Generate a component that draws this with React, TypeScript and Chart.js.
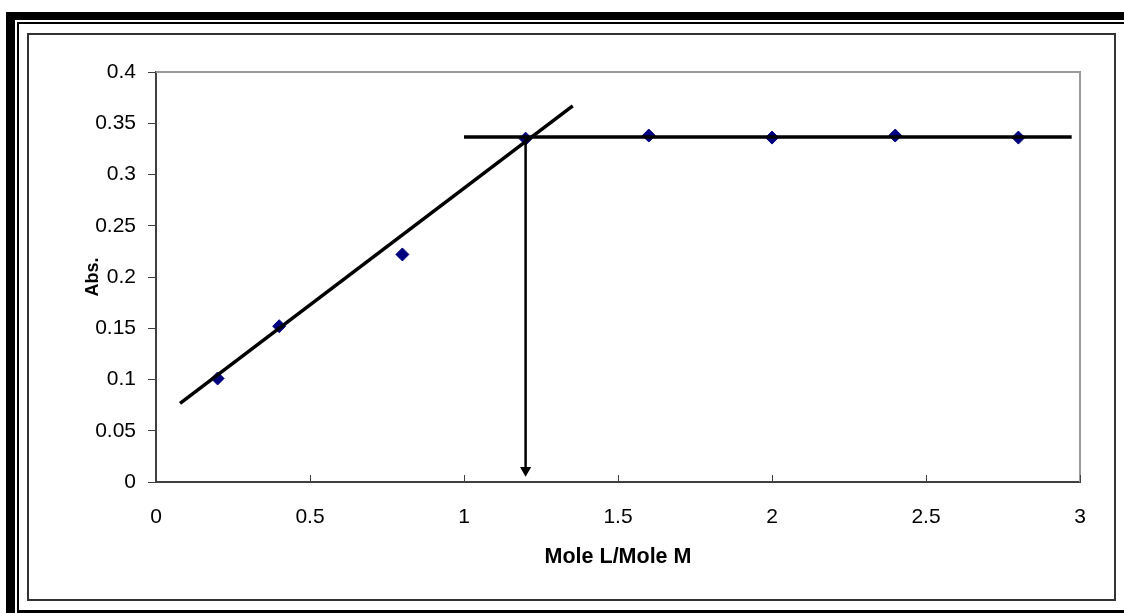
import React, { useEffect, useRef } from "react";
import { Chart, registerables } from "chart.js";

Chart.register(...registerables);

const xTickValues = [0, 0.5, 1, 1.5, 2, 2.5, 3];
const yTickValues = [0, 0.05, 0.1, 0.15, 0.2, 0.25, 0.3, 0.35, 0.4];
const moleRatio = [0.2, 0.4, 0.8, 1.2, 1.6, 2.0, 2.4, 2.8];
const absorbance = [0.101, 0.152, 0.222, 0.335, 0.338, 0.336, 0.338, 0.336];
const risingLineX = [0.078, 1.353];
const risingLineY = [0.0768, 0.367];
const plateauLineX = [1.0, 2.973];
const plateauLineY = [0.3367, 0.3367];
const arrowX = [1.2, 1.2];
const arrowY = [0.3367, 0.0115];
const xTitle = "Mole L/Mole M";
const yTitle = "Abs.";

const zip = (xs: number[], ys: number[]) => xs.map((x, i) => ({ x, y: ys[i] }));
const FONT = "'Liberation Sans', Arial, sans-serif";

const framePlugin = {
  id: "framePlugin",
  afterDraw(chart: any) {
    const { ctx, chartArea, scales } = chart;
    ctx.save();
    ctx.strokeStyle = "#9a9a9a";
    ctx.lineWidth = 2;
    ctx.beginPath();
    ctx.moveTo(chartArea.left, chartArea.top);
    ctx.lineTo(chartArea.right, chartArea.top);
    ctx.lineTo(chartArea.right, chartArea.bottom);
    ctx.stroke();
    ctx.strokeStyle = "#404040";
    ctx.lineWidth = 1;
    ctx.beginPath();
    for (const v of xTickValues) {
      const px = Math.round(scales.x.getPixelForValue(v)) + 0.5;
      ctx.moveTo(px, chartArea.bottom);
      ctx.lineTo(px, chartArea.bottom - 7);
    }
    ctx.stroke();
    ctx.restore();
  },
};

export default function App() {
  const ref = useRef<HTMLCanvasElement>(null);
  useEffect(() => {
    if (!ref.current) return;
    const chart = new Chart(ref.current, {
      type: "scatter",
      data: {
        datasets: [
          {
            data: zip(risingLineX, risingLineY),
            showLine: true,
            borderColor: "#000",
            borderWidth: 3.5,
            pointRadius: 0,
            order: 1,
          },
          {
            data: zip(plateauLineX, plateauLineY),
            showLine: true,
            borderColor: "#000",
            borderWidth: 3.5,
            pointRadius: 0,
            order: 1,
          },
          {
            data: zip(arrowX, arrowY),
            showLine: true,
            borderColor: "#000",
            borderWidth: 2.5,
            pointRadius: [0, 6.5],
            pointStyle: "triangle",
            rotation: 180,
            pointBackgroundColor: "#000",
            pointBorderColor: "#000",
            pointBorderWidth: 0,
            order: 1,
          } as any,
          {
            data: zip(moleRatio, absorbance),
            showLine: false,
            pointStyle: "rectRot",
            pointRadius: 6.5,
            pointBackgroundColor: "#000080",
            pointBorderColor: "#000080",
            pointBorderWidth: 1,
            order: 2,
          },
        ],
      },
      options: {
        animation: false,
        responsive: false,
        maintainAspectRatio: false,
        layout: { padding: { top: 37, right: 34, left: 0, bottom: 0 } },
        plugins: { legend: { display: false }, tooltip: { enabled: false } },
        scales: {
          x: {
            type: "linear",
            min: 0,
            max: 3,
            afterBuildTicks: (s: any) => {
              s.ticks = xTickValues.map((v) => ({ value: v }));
            },
            afterFit: (s: any) => {
              s.height = 117;
            },
            ticks: {
              color: "#000",
              font: { family: FONT, size: 21 },
              padding: 23,
              maxRotation: 0,
              autoSkip: false,
              callback: (v: any) => String(v),
            },
            grid: { display: true, drawOnChartArea: false, drawTicks: false },
            border: { display: true, color: "#404040", width: 2 },
            title: {
              display: true,
              text: xTitle,
              color: "#000",
              font: { family: FONT, size: 21.5, weight: "bold" },
              padding: { top: 0, bottom: 29 },
            },
          },
          y: {
            type: "linear",
            min: 0,
            max: 0.4,
            afterBuildTicks: (s: any) => {
              s.ticks = yTickValues.map((v) => ({ value: v }));
            },
            afterFit: (s: any) => {
              s.width = 127;
            },
            ticks: {
              color: "#000",
              font: { family: FONT, size: 21 },
              padding: 12,
              autoSkip: false,
              callback: (v: any) => String(v),
            },
            grid: {
              display: true,
              drawOnChartArea: false,
              drawTicks: true,
              tickLength: 8,
              color: "#404040",
              tickColor: "#404040",
            },
            border: { display: true, color: "#404040", width: 2 },
            title: {
              display: true,
              text: yTitle,
              color: "#000",
              font: { family: FONT, size: 18, weight: "bold" },
              padding: { top: 53, bottom: 0 },
            },
          },
        },
      },
      plugins: [framePlugin],
    });
    return () => chart.destroy();
  }, []);

  const abs = (l: number, t: number, w: number, h: number, extra: any = {}) => ({
    position: "absolute" as const,
    left: l,
    top: t,
    width: w,
    height: h,
    ...extra,
  });

  return (
    <div style={{ position: "fixed", left: 0, top: 0, width: 1124, height: 613, background: "#fff", overflow: "hidden" }}>
      <div style={abs(6, 12, 1118, 8, { background: "#000" })} />
      <div style={abs(6, 12, 9, 601, { background: "#000" })} />
      <div style={abs(17, 22, 1107, 2, { background: "#000" })} />
      <div style={abs(17, 22, 2, 591, { background: "#000" })} />
      <div style={abs(17, 610, 1107, 3, { background: "#000" })} />
      <div style={abs(27, 33, 1089, 568, { border: "2px solid #333", boxSizing: "border-box" })} />
      <canvas ref={ref} width={1085} height={564} style={abs(29, 35, 1085, 564, { display: "block" })} />
    </div>
  );
}
